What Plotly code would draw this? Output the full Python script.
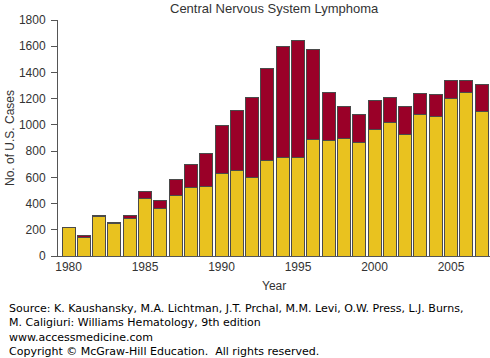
import plotly.graph_objects as go

years = list(range(1980, 2008))
yellow_vals = [215, 144, 299, 246, 283, 439, 360, 464, 525, 530,
               632, 650, 598, 728, 751, 751, 886, 878, 899, 865,
               967, 1018, 924, 1077, 1063, 1198, 1244, 1099]
total_vals = [217, 157, 311, 258, 306, 491, 423, 583, 700, 784,
              992, 1110, 1208, 1427, 1597, 1645, 1574, 1246, 1140, 1081,
              1185, 1208, 1140, 1241, 1229, 1340, 1335, 1307]
red_vals = [t - y for t, y in zip(total_vals, yellow_vals)]
y_ticks = [0, 200, 400, 600, 800, 1000, 1200, 1400, 1600, 1800]
x_ticks = [1980, 1985, 1990, 1995, 2000, 2005]

W, H = 490, 358
L, R, T, B = 58, 0, 20, 102
pw, ph = W - L - R, H - T - B

def px(x):
    return (x - L) / pw

def py(y):
    return (H - B - y) / ph

fig = go.Figure()
fig.add_trace(go.Bar(x=years, y=yellow_vals, marker=dict(color="#E9C21F", line=dict(color="#4a4a4a", width=1))))
fig.add_trace(go.Bar(x=years, y=red_vals, marker=dict(color="#9A0028", line=dict(color="#4a4a4a", width=1))))

font_main = "Liberation Sans, Arial, Helvetica, sans-serif"
fig.update_layout(
    width=W, height=H, barmode="stack", bargap=0.15,
    margin=dict(l=L, r=R, t=T, b=B),
    paper_bgcolor="white", plot_bgcolor="white",
    showlegend=False,
    font=dict(family=font_main, size=12, color="#333333"),
    xaxis=dict(range=[1979.31, 2007.55], tickvals=x_ticks, ticks="", showgrid=False,
               showline=True, linecolor="#555555", linewidth=1, zeroline=False,
               tickfont=dict(size=12, color="#333333")),
    yaxis=dict(range=[0, 1800], tickvals=y_ticks, ticks="outside", ticklen=6,
               tickcolor="#555555", showgrid=False, showline=True, linecolor="#555555",
               linewidth=1, zeroline=False, ticklabelstandoff=3,
               tickfont=dict(size=12, color="#333333")),
    annotations=[
        dict(text="Central Nervous System Lymphoma", x=px(274), y=py(9), xref="paper", yref="paper",
             showarrow=False, xanchor="center", yanchor="middle", font=dict(size=13, color="#333333")),
        dict(text="No. of U.S. Cases", x=px(10), y=py(138), xref="paper", yref="paper", textangle=-90,
             showarrow=False, xanchor="center", yanchor="middle", font=dict(size=12, color="#333333")),
        dict(text="Year", x=px(274), y=py(286), xref="paper", yref="paper",
             showarrow=False, xanchor="center", yanchor="middle", font=dict(size=12, color="#333333")),
        dict(text="Source: K. Kaushansky, M.A. Lichtman, J.T. Prchal, M.M. Levi, O.W. Press, L.J. Burns,<br>"
                  "M. Caligiuri: Williams Hematology, 9th edition<br>"
                  "www.accessmedicine.com<br>"
                  "Copyright © McGraw-Hill Education.  All rights reserved.",
             x=px(7), y=py(300), xref="paper", yref="paper", align="left",
             showarrow=False, xanchor="left", yanchor="top",
             font=dict(family="DejaVu Sans, Verdana, sans-serif", size=11, color="#000000")),
    ],
)

fig.write_html("out.html", config={"displayModeBar": False},
               post_script="document.body.style.margin='0';document.body.style.padding='0';document.body.style.overflow='hidden';")
